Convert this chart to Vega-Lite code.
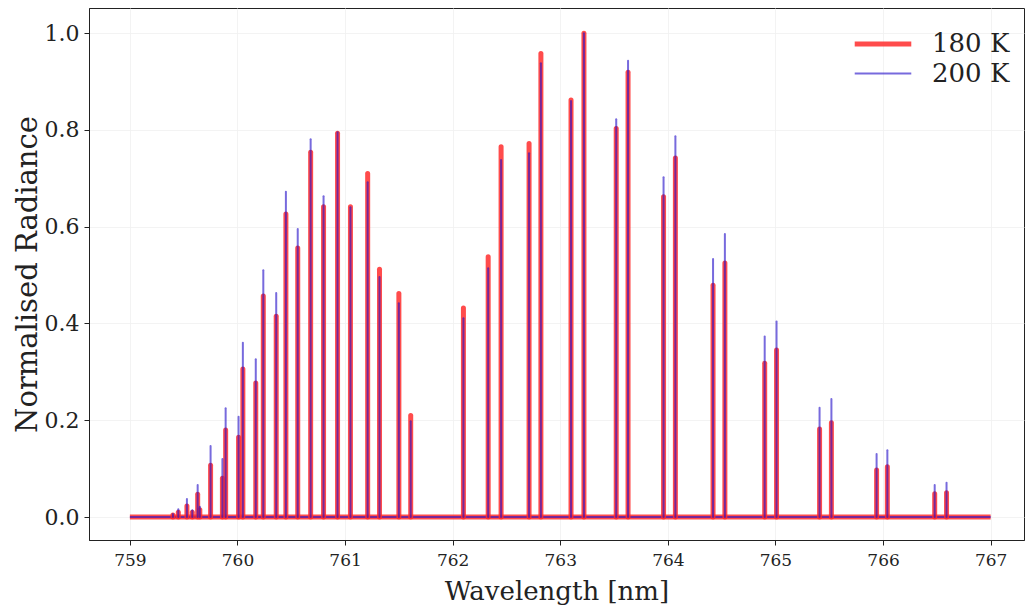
{
  "$schema": "https://vega.github.io/schema/vega-lite/v6.json",
  "width": 935,
  "height": 532,
  "autosize": "none",
  "padding": {"left": 89, "top": 8, "right": 1, "bottom": 68},
  "background": "white",
  "config": {
    "font": "DejaVu Serif",
    "view": {"stroke": "#222", "strokeWidth": 1},
    "axis": {
      "labelFont": "DejaVu Serif", "labelColor": "#222",
      "titleFont": "DejaVu Serif", "titleFontWeight": "normal", "titleColor": "#222",
      "domainColor": "#222", "tickColor": "#222", "tickSize": 5,
      "gridColor": "#f0f0f0", "gridWidth": 0.8
    },
    "legend": {
      "labelFont": "DejaVu Serif", "labelFontSize": 26, "labelColor": "#222"
    }
  },
  "datasets": {
    "lines": [
      {"w": 759.40, "series": "180 K", "value": 0.004},
      {"w": 759.45, "series": "180 K", "value": 0.010},
      {"w": 759.53, "series": "180 K", "value": 0.023},
      {"w": 759.58, "series": "180 K", "value": 0.010},
      {"w": 759.63, "series": "180 K", "value": 0.047},
      {"w": 759.65, "series": "180 K", "value": 0.015},
      {"w": 759.75, "series": "180 K", "value": 0.107},
      {"w": 759.86, "series": "180 K", "value": 0.080},
      {"w": 759.89, "series": "180 K", "value": 0.180},
      {"w": 760.01, "series": "180 K", "value": 0.165},
      {"w": 760.05, "series": "180 K", "value": 0.306},
      {"w": 760.17, "series": "180 K", "value": 0.277},
      {"w": 760.24, "series": "180 K", "value": 0.457},
      {"w": 760.36, "series": "180 K", "value": 0.415},
      {"w": 760.45, "series": "180 K", "value": 0.626},
      {"w": 760.56, "series": "180 K", "value": 0.556},
      {"w": 760.68, "series": "180 K", "value": 0.754},
      {"w": 760.80, "series": "180 K", "value": 0.641},
      {"w": 760.93, "series": "180 K", "value": 0.793},
      {"w": 761.05, "series": "180 K", "value": 0.641},
      {"w": 761.21, "series": "180 K", "value": 0.710},
      {"w": 761.32, "series": "180 K", "value": 0.512},
      {"w": 761.50, "series": "180 K", "value": 0.462},
      {"w": 761.61, "series": "180 K", "value": 0.210},
      {"w": 762.10, "series": "180 K", "value": 0.432},
      {"w": 762.33, "series": "180 K", "value": 0.538},
      {"w": 762.45, "series": "180 K", "value": 0.765},
      {"w": 762.71, "series": "180 K", "value": 0.772},
      {"w": 762.82, "series": "180 K", "value": 0.958},
      {"w": 763.10, "series": "180 K", "value": 0.862},
      {"w": 763.22, "series": "180 K", "value": 1.000},
      {"w": 763.52, "series": "180 K", "value": 0.803},
      {"w": 763.63, "series": "180 K", "value": 0.919},
      {"w": 763.96, "series": "180 K", "value": 0.662},
      {"w": 764.07, "series": "180 K", "value": 0.742},
      {"w": 764.42, "series": "180 K", "value": 0.479},
      {"w": 764.53, "series": "180 K", "value": 0.525},
      {"w": 764.90, "series": "180 K", "value": 0.318},
      {"w": 765.01, "series": "180 K", "value": 0.345},
      {"w": 765.41, "series": "180 K", "value": 0.182},
      {"w": 765.52, "series": "180 K", "value": 0.195},
      {"w": 765.94, "series": "180 K", "value": 0.097},
      {"w": 766.04, "series": "180 K", "value": 0.104},
      {"w": 766.48, "series": "180 K", "value": 0.048},
      {"w": 766.59, "series": "180 K", "value": 0.050},
      {"w": 759.40, "series": "200 K", "value": 0.006},
      {"w": 759.45, "series": "200 K", "value": 0.016},
      {"w": 759.53, "series": "200 K", "value": 0.037},
      {"w": 759.58, "series": "200 K", "value": 0.014},
      {"w": 759.63, "series": "200 K", "value": 0.066},
      {"w": 759.65, "series": "200 K", "value": 0.021},
      {"w": 759.75, "series": "200 K", "value": 0.147},
      {"w": 759.86, "series": "200 K", "value": 0.120},
      {"w": 759.89, "series": "200 K", "value": 0.225},
      {"w": 760.01, "series": "200 K", "value": 0.207},
      {"w": 760.05, "series": "200 K", "value": 0.360},
      {"w": 760.17, "series": "200 K", "value": 0.326},
      {"w": 760.24, "series": "200 K", "value": 0.510},
      {"w": 760.36, "series": "200 K", "value": 0.463},
      {"w": 760.45, "series": "200 K", "value": 0.672},
      {"w": 760.56, "series": "200 K", "value": 0.595},
      {"w": 760.68, "series": "200 K", "value": 0.781},
      {"w": 760.80, "series": "200 K", "value": 0.663},
      {"w": 760.93, "series": "200 K", "value": 0.795},
      {"w": 761.05, "series": "200 K", "value": 0.640},
      {"w": 761.21, "series": "200 K", "value": 0.692},
      {"w": 761.32, "series": "200 K", "value": 0.496},
      {"w": 761.50, "series": "200 K", "value": 0.442},
      {"w": 761.61, "series": "200 K", "value": 0.198},
      {"w": 762.10, "series": "200 K", "value": 0.411},
      {"w": 762.33, "series": "200 K", "value": 0.514},
      {"w": 762.45, "series": "200 K", "value": 0.738},
      {"w": 762.71, "series": "200 K", "value": 0.752},
      {"w": 762.82, "series": "200 K", "value": 0.938},
      {"w": 763.10, "series": "200 K", "value": 0.860},
      {"w": 763.22, "series": "200 K", "value": 1.000},
      {"w": 763.52, "series": "200 K", "value": 0.822},
      {"w": 763.63, "series": "200 K", "value": 0.943},
      {"w": 763.96, "series": "200 K", "value": 0.702},
      {"w": 764.07, "series": "200 K", "value": 0.787},
      {"w": 764.42, "series": "200 K", "value": 0.533},
      {"w": 764.53, "series": "200 K", "value": 0.585},
      {"w": 764.90, "series": "200 K", "value": 0.373},
      {"w": 765.01, "series": "200 K", "value": 0.404},
      {"w": 765.41, "series": "200 K", "value": 0.226},
      {"w": 765.52, "series": "200 K", "value": 0.244},
      {"w": 765.94, "series": "200 K", "value": 0.130},
      {"w": 766.04, "series": "200 K", "value": 0.138},
      {"w": 766.48, "series": "200 K", "value": 0.066},
      {"w": 766.59, "series": "200 K", "value": 0.071}
    ],
    "range": [
      {"series": "180 K", "start": 759, "end": 767, "value": 0},
      {"series": "200 K", "start": 759, "end": 767, "value": 0}
    ]
  },
  "encoding": {
    "color": {
      "field": "series", "type": "nominal",
      "scale": {"domain": ["180 K", "200 K"], "range": ["rgba(255,45,45,0.85)", "rgba(35,15,200,0.62)"]},
      "legend": {"title": null, "orient": "none", "legendX": 777, "legendY": 19, "symbolType": "M-2,0H2", "symbolSize": 800, "rowPadding": 1, "labelOffset": 32}
    },
    "strokeWidth": {
      "field": "series", "type": "ordinal",
      "scale": {"domain": ["180 K", "200 K"], "range": [5, 2]},
      "legend": {"title": null, "orient": "none", "legendX": 777, "legendY": 19, "symbolType": "M-2,0H2", "symbolSize": 800, "rowPadding": 1, "labelOffset": 32}
    }
  },
  "layer": [
    {
      "data": {"name": "range"},
      "mark": {"type": "rule", "strokeCap": "butt"},
      "encoding": {
        "x": {"field": "start", "type": "quantitative", "scale": {"domain": [758.62, 767.31], "nice": false, "zero": false},
              "axis": {"title": "Wavelength [nm]", "values": [759, 760, 761, 762, 763, 764, 765, 766, 767], "format": "d",
                       "labelFontSize": 17, "labelPadding": 7, "titleFontSize": 26, "titlePadding": 10}},
        "x2": {"field": "end"},
        "y": {"field": "value", "type": "quantitative", "scale": {"domain": [-0.0475, 1.052], "nice": false, "zero": false},
              "axis": {"title": "Normalised Radiance", "values": [0, 0.2, 0.4, 0.6, 0.8, 1.0], "format": ".1f",
                       "labelFontSize": 22, "labelPadding": 5, "titleFontSize": 29, "titlePadding": 2}}
      }
    },
    {
      "data": {"name": "lines"},
      "mark": {"type": "rule", "strokeCap": "round"},
      "encoding": {
        "x": {"field": "w", "type": "quantitative"},
        "y": {"field": "value", "type": "quantitative"},
        "y2": {"datum": 0}
      }
    }
  ]
}
